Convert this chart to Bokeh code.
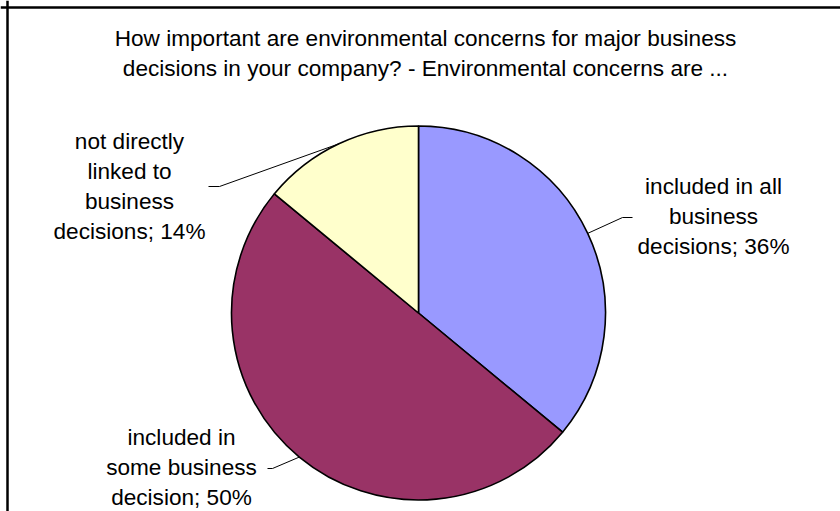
import numpy as np
from bokeh.plotting import figure
from bokeh.models import Range1d, Span, ColumnDataSource
from bokeh.core.properties import value
from bokeh.embed import file_html
from bokeh.resources import INLINE

# ---- data ----
title_lines = ["How important are environmental concerns for major business",
               "decisions in your company? - Environmental concerns are ..."]
categories = ["included in all business decisions",
              "included in some business decision",
              "not directly linked to business decisions"]
shares = [36, 50, 14]
label_lines = [["included in all", "business", "decisions; 36%"],
               ["included in", "some business", "decision; 50%"],
               ["not directly", "linked to", "business", "decisions; 14%"]]
colors = ["#9999FF", "#993366", "#FFFFCC"]

# ---- layout (pixel coordinates, y measured from top) ----
W, H = 840, 511
FONT = value("Liberation Sans")
FS = "22.6px"
LINE_GAP = 30
cx, cy_px, R = 418, 312.5, 187
cy = H - cy_px

# label block centres and leader elbow / end points
label_pos = [(713, 216), (181, 467), (129, 186)]
leader_elbow = [(622, 217), (272, 468), (219, 186)]
leader_end = [(632, 217), (267, 468), (208, 186)]

p = figure(width=W, height=H, x_range=Range1d(0, W), y_range=Range1d(0, H),
           output_backend="svg", toolbar_location=None,
           x_axis_location=None, y_axis_location=None, min_border=0)
p.grid.visible = False
p.outline_line_color = None
p.background_fill_color = "white"
p.border_fill_color = "white"

total = float(sum(shares))
cum = np.concatenate([[0.0], np.cumsum(shares)]) / total
starts = np.pi / 2 - 2 * np.pi * cum[:-1]
ends = np.pi / 2 - 2 * np.pi * cum[1:]
src = ColumnDataSource(dict(cat=categories, share=shares, start=starts, end=ends, color=colors))
p.wedge(x=cx, y=cy, radius=R, start_angle="start", end_angle="end", direction="clock",
        fill_color="color", line_color="black", line_width=1.6, source=src)

# leader lines from the mid-angle of each slice
mids = (starts + ends) / 2
xs, ys = [], []
for m, el, en in zip(mids, leader_elbow, leader_end):
    xs.append([cx + R * np.cos(m), el[0], en[0]])
    ys.append([cy + R * np.sin(m), H - el[1], H - en[1]])
p.multi_line(xs=xs, ys=ys, line_color="black", line_width=1)

# slice labels, one text per line, block centred on its anchor
tx, ty, tt = [], [], []
for lines, (lx, ly) in zip(label_lines, label_pos):
    n = len(lines)
    for i, s in enumerate(lines):
        tx.append(lx)
        ty.append(H - (ly + (i - (n - 1) / 2) * LINE_GAP))
        tt.append(s)
p.text(x=tx, y=ty, text=tt, text_font=FONT, text_font_size=FS,
       text_align="center", text_baseline="middle", text_color="black")

# title
p.text(x=[425, 425], y=[H - 38, H - 68], text=title_lines,
       text_font=FONT, text_font_size=FS, text_align="center", text_baseline="middle",
       text_color="black")

# chart-area border (extends past the right and bottom edges)
p.add_layout(Span(location=H - 7, dimension="width", line_color="black", line_width=2.5))
p.add_layout(Span(location=7, dimension="height", line_color="black", line_width=2.5))

open("out.html", "w").write(file_html(p, INLINE))
